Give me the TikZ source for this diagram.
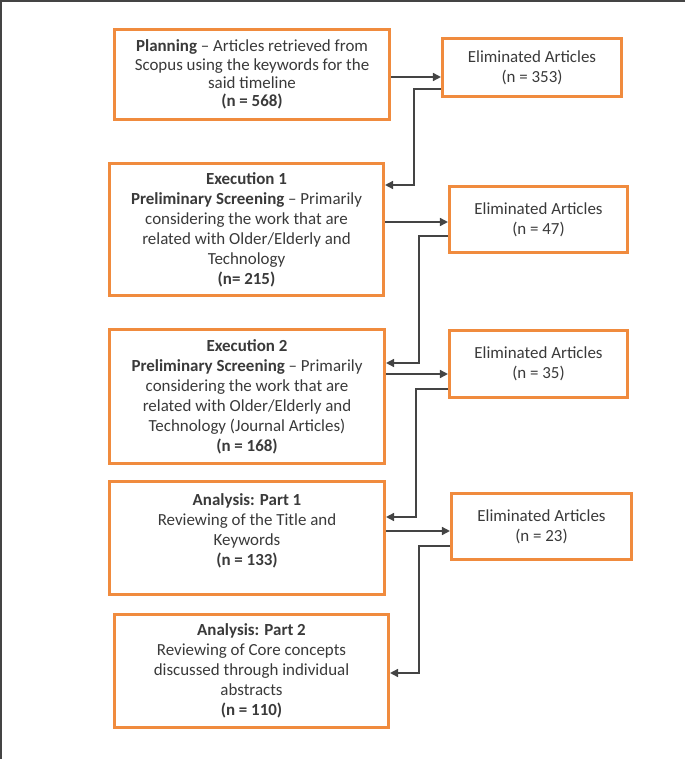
\documentclass[tikz,border=0pt]{standalone}
\usepackage{fontspec}
\setmainfont{Carlito}
\usetikzlibrary{arrows.meta,calc}
\definecolor{boxorange}{HTML}{F08B3E}
\definecolor{txtgray}{HTML}{3A3A3A}
\definecolor{linegray}{HTML}{444444}
\tikzset{
  x=0.75pt, y=-0.75pt,
  stagebox/.style={draw=boxorange, line width=2.3pt, fill=white, rectangle,
    align=center, text=txtgray, inner sep=0pt,
    font=\fontsize{12.7pt}{15pt}\selectfont},
  elimbox/.style={stagebox},
  conn/.style={draw=linegray, line width=1.1pt},
  arr/.style={conn, -{Triangle[length=6pt,width=6pt]}},
}
\begin{document}
\begin{tikzpicture}
\useasboundingbox (0,0) rectangle (685,759);
% frame
\draw[draw=linegray, line width=2pt] (685,1) -- (1,1) -- (1,759);

% stage boxes
\node[stagebox, minimum width=275*0.75pt, minimum height=90*0.75pt,
      font=\fontsize{12.7pt}{13.6pt}\selectfont] (b1) at (252,74.5)
  {\textbf{Planning} – Articles retrieved from\\Scopus using the keywords for the\\said timeline\\\textbf{(n = 568)}};
\node[stagebox, minimum width=274*0.75pt, minimum height=132*0.75pt] (b2) at (246.5,229.5)
  {\textbf{Execution 1}\\\textbf{Preliminary Screening} – Primarily\\considering the work that are\\related with Older/Elderly and\\Technology\\\textbf{(n= 215)}};
\node[stagebox, minimum width=275*0.75pt, minimum height=134*0.75pt] (b3) at (247,396.5)
  {\textbf{Execution 2}\\\textbf{Preliminary Screening} – Primarily\\considering the work that are\\related with Older/Elderly and\\Technology (Journal Articles)\\\textbf{(n = 168)}};
\node[stagebox, minimum width=275*0.75pt, minimum height=113*0.75pt] (b4) at (247,538)
  {\textbf{Analysis: Part 1}\\Reviewing of the Title and\\Keywords\\\textbf{(n = 133)}\rule[-12.5pt]{0pt}{12.5pt}};
\node[stagebox, minimum width=274*0.75pt, minimum height=113*0.75pt] (b5) at (251.5,671)
  {\textbf{Analysis: Part 2}\\Reviewing of Core concepts\\discussed through individual\\abstracts\\\textbf{(n = 110)}};

% eliminated boxes
\node[elimbox, minimum width=179*0.75pt, minimum height=58*0.75pt] (e1) at (532,67.5)
  {Eliminated Articles\\(n = 353)};
\node[elimbox, minimum width=178*0.75pt, minimum height=66*0.75pt] (e2) at (538.5,219.5)
  {Eliminated Articles\\(n = 47)};
\node[elimbox, minimum width=178*0.75pt, minimum height=67*0.75pt] (e3) at (538.5,364)
  {Eliminated Articles\\(n = 35)};
\node[elimbox, minimum width=180*0.75pt, minimum height=66*0.75pt] (e4) at (541.5,526.5)
  {Eliminated Articles\\(n = 23)};

% connectors
\draw[arr] (b1.east |- 0,77) -- (e1.west |- 0,77);
\draw[arr] (e1.west |- 0,89) -| (414,185) -- (b2.east |- 0,185);

\draw[arr] (b2.east |- 0,222) -- (e2.west |- 0,222);
\draw[arr] (e2.west |- 0,236) -| (419,363) -- (b3.east |- 0,363);

\draw[arr] (b3.east |- 0,374) -- (e3.west |- 0,374);
\draw[arr] (e3.west |- 0,389) -| (416,517) -- (b4.east |- 0,517);

\draw[arr] (b4.east |- 0,531) -- (e4.west |- 0,531);
\draw[arr] (e4.west |- 0,546) -| (419,673) -- (b5.east |- 0,673);
\end{tikzpicture}
\end{document}
